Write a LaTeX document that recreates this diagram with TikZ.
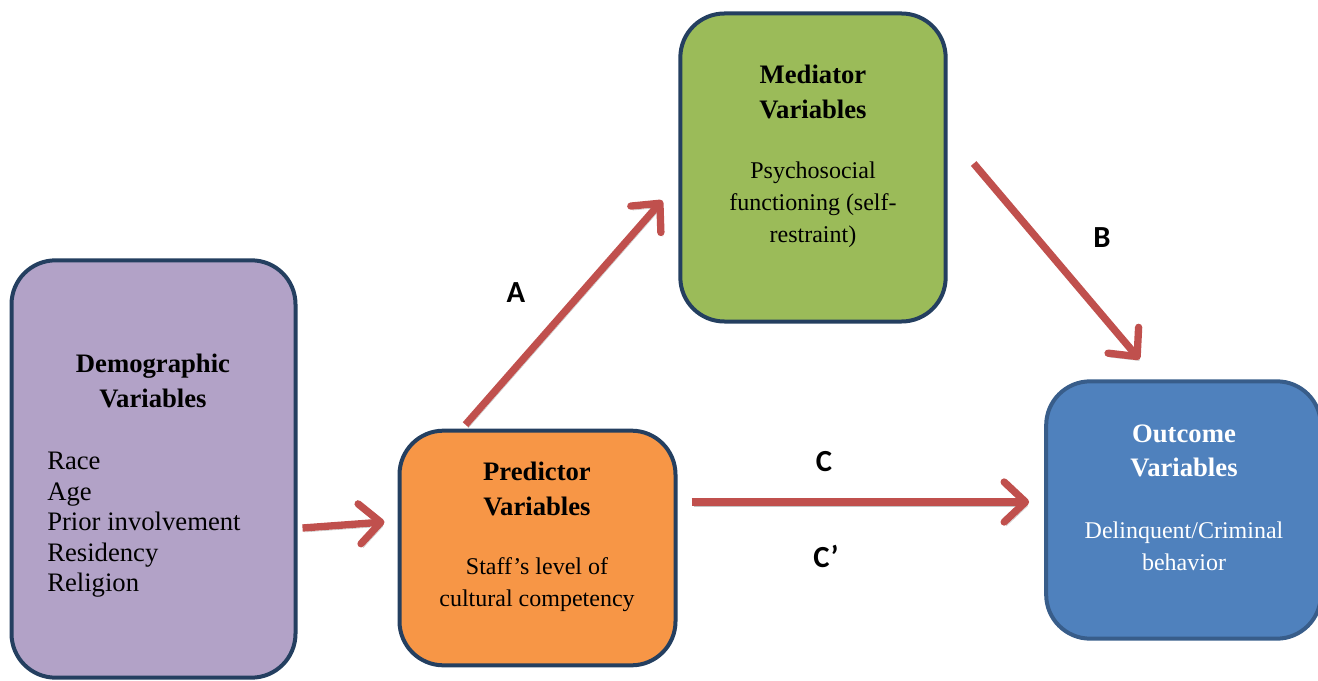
\documentclass[tikz,border=0pt]{standalone}
\usepackage{fontspec}
\setmainfont{Liberation Serif}
\newfontfamily\labelfont{Carlito}
\usepackage{tikz}
\usetikzlibrary{arrows.meta, calc, positioning}
\definecolor{boxline}{HTML}{243F60}
\definecolor{outline}{HTML}{385D8A}
\definecolor{demofill}{HTML}{B2A2C7}
\definecolor{predfill}{HTML}{F79646}
\definecolor{medfill}{HTML}{9BBB59}
\definecolor{outfill}{HTML}{4F81BD}
\definecolor{arrowred}{HTML}{C0504D}
\definecolor{shadowgray}{HTML}{C4C4C4}

\begin{document}
\begin{tikzpicture}[x=0.75pt,y=0.75pt,yscale=-1,xscale=1,
  varbox/.style={draw=boxline, line width=3pt, rounded corners=33pt, inner sep=0pt},
  headtext/.style={align=center, font=\fontsize{20}{26}\selectfont\bfseries, inner sep=0pt},
  bodytext/.style={align=center, font=\fontsize{18}{24}\selectfont, inner sep=0pt},
  listtext/.style={align=left, font=\fontsize{20}{22.9}\selectfont, inner sep=0pt},
  pathlabel/.style={font=\labelfont\bfseries\fontsize{23}{27}\selectfont, inner sep=0pt},
  effect/.style={draw=arrowred, line width=5.5pt, -{Straight Barb[round, length=16pt, width=30pt]},
    preaction={draw=shadowgray, transform canvas={shift={(2,-4)}}}}
]
\useasboundingbox (0,0) rectangle (1318,681);

% Boxes
\node[varbox, fill=demofill, minimum width=213pt, minimum height=313pt] (dem) at (153.5,469) {};
\node[varbox, fill=predfill, minimum width=207pt, minimum height=176pt] (pred) at (537.5,548) {};
\node[varbox, fill=medfill, minimum width=199pt, minimum height=231pt] (med) at (813,167.5) {};
\node[varbox, draw=outline, fill=outfill, minimum width=206pt, minimum height=193pt] (out) at (1183.5,510) {};

% Text Node
\node[headtext] (dem-head) at (153,381) {Demographic\\Variables};
\node[listtext, anchor=west] (dem-list) at (47,525) {Race\\Age\\Prior involvement\\Residency\\Religion};
% Text Node
\node[headtext] (pred-head) at (537,489) {Predictor\\Variables};
\node[bodytext] (pred-body) at (537,585) {Staff’s level of\\cultural competency};
% Text Node
\node[headtext] (med-head) at (813,92) {Mediator\\Variables};
\node[bodytext] (med-body) at (813,204.5) {Psychosocial\\functioning (self-\\restraint)};
% Text Node
\node[headtext, text=white] (out-head) at (1184,451) {Outcome\\Variables};
\node[bodytext, text=white] (out-body) at (1184,546) {Delinquent/Criminal\\behavior};

% Path labels
\node[pathlabel] (lab-a) at (516,293) {A};
\node[pathlabel] (lab-b) at (1102,238) {B};
\node[pathlabel] (lab-c) at (824,462) {C};
\node[pathlabel] (lab-cp) at (826,556) {C’};

%Straight Lines
\draw[effect] ($(dem.east)+(5,59)$) -- ($(pred.west)+(-13,-26)$);
\draw[effect] ($(pred.north)+(-72,-4)$) -- ($(med.west)+(-16,33)$);
\draw[effect] ($(med.east)+(26,-4)$) -- ($(out.north)+(-44,-20)$);
\draw[effect] ($(pred.east)+(14,-46)$) -- ($(out.west)+(-15,-8)$);

\end{tikzpicture}
\end{document}
